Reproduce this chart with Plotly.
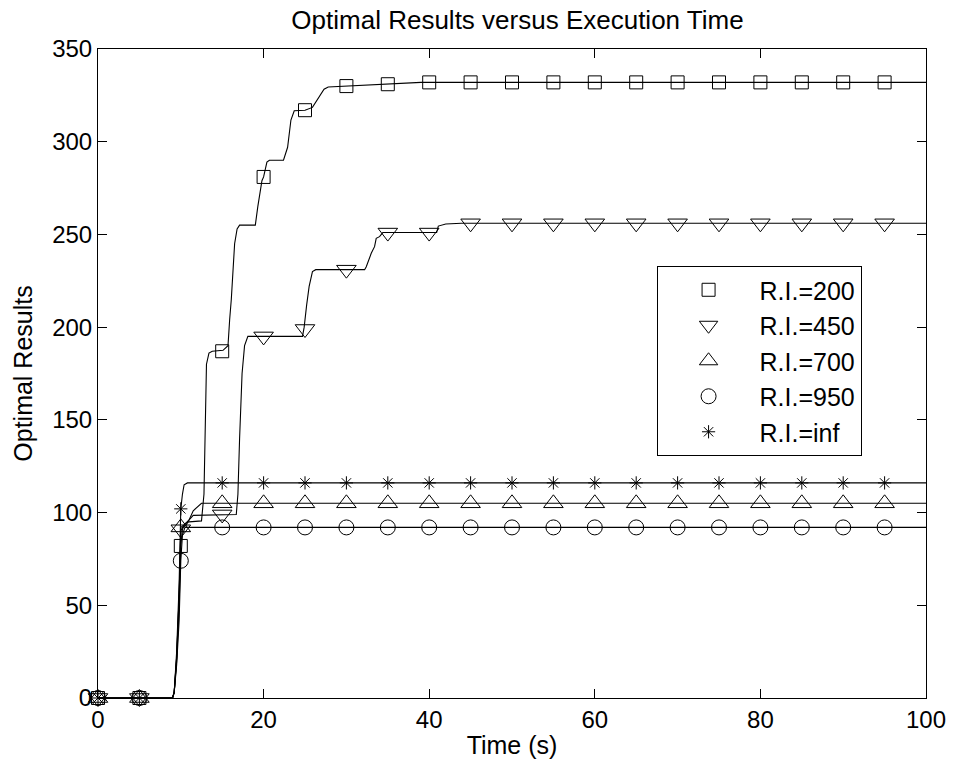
import plotly.graph_objects as go

# ---------------- data ----------------
marker_t = [0, 5, 10, 15, 20, 25, 30, 35, 40, 45, 50, 55, 60, 65, 70, 75, 80, 85, 90, 95]

m200 = [0, 0, 82, 187, 281, 317, 330, 331, 332, 332, 332, 332, 332, 332, 332, 332, 332, 332, 332, 332]
m450 = [0, 0, 91, 99, 195, 199, 231, 251, 251, 256, 256, 256, 256, 256, 256, 256, 256, 256, 256, 256]
m700 = [0, 0, 92, 105, 105, 105, 105, 105, 105, 105, 105, 105, 105, 105, 105, 105, 105, 105, 105, 105]
m950 = [0, 0, 74, 92, 92, 92, 92, 92, 92, 92, 92, 92, 92, 92, 92, 92, 92, 92, 92, 92]
minf = [0, 0, 102, 116, 116, 116, 116, 116, 116, 116, 116, 116, 116, 116, 116, 116, 116, 116, 116, 116]

t200 = [0, 9.0, 9.2, 9.5, 9.8, 10.0, 10.2, 10.5, 11.0, 12.5, 12.8, 12.95, 13.1, 13.4, 13.8, 15.1, 15.7,
        15.9, 16.1, 16.5, 16.8, 17.1, 19.0, 19.3, 19.8, 20.0, 20.4, 20.7, 22.4, 22.9, 23.3, 23.7, 25.0,
        25.9, 26.5, 27.3, 27.8, 30.0, 32.0, 33.5, 37.0, 39.0, 100]
v200 = [0, 0, 3, 20, 50, 82, 91, 94, 95, 95.5, 110, 150, 180, 186, 187, 187.5, 190,
        204, 215, 245, 253, 255, 255, 265, 279, 281, 289, 290, 290, 297, 311.7, 316.7, 317,
        318.5, 322.5, 328.3, 329.5, 330, 330.5, 331, 331.5, 332, 332]

t450 = [0, 9.0, 9.2, 9.5, 9.8, 10.0, 10.2, 10.6, 11.0, 11.5, 16.7, 16.9, 17.1, 17.4, 17.7, 18.1, 24.7,
        24.9, 25.2, 25.5, 25.9, 26.3, 32.2, 32.4, 33.0, 33.4, 33.6, 34.0, 34.4, 40.9, 41.1, 42.0, 43.9, 100]
v450 = [0, 0, 3, 22, 55, 90, 92, 93, 96, 98.5, 99, 110, 140, 175, 190, 195, 195,
        200, 212, 222, 230, 231, 231, 232.6, 239.8, 243.4, 247.9, 248.8, 251, 251, 254.5, 255.6, 256, 256]

t700 = [0, 9.0, 9.2, 9.5, 9.8, 10.0, 10.3, 11.0, 11.5, 12.0, 12.5, 100]
v700 = [0, 0, 3, 22, 55, 92, 93, 96, 101, 103, 105, 105]

t950 = [0, 9.0, 9.2, 9.5, 9.8, 10.0, 10.2, 10.5, 100]
v950 = [0, 0, 3, 18, 42, 74, 88, 92, 92]

tinf = [0, 9.0, 9.2, 9.5, 9.8, 10.0, 10.2, 10.4, 10.8, 100]
vinf = [0, 0, 3, 25, 62, 102, 110, 115, 116, 116]

names = ["R.I.=200", "R.I.=450", "R.I.=700", "R.I.=950", "R.I.=inf"]
x_ticks = [0, 20, 40, 60, 80, 100]
y_ticks = [0, 50, 100, 150, 200, 250, 300, 350]

# ---------------- figure ----------------
FONT = "Liberation Sans, Arial, Helvetica, sans-serif"
fig = go.Figure()

lines = [(t200, v200), (t450, v450), (t700, v700), (t950, v950), (tinf, vinf)]
for (tx, vy) in lines:
    fig.add_trace(go.Scatter(x=tx, y=vy, mode="lines", line=dict(color="black", width=1.1),
                             showlegend=False, hoverinfo="skip"))

marks = [m200, m450, m700, m950, minf]
symbols = ["square-open", "triangle-down-open", "triangle-up-open", "circle-open", "asterisk-open"]
sizes = [13, 17, 17, 15, 11]
for name, vals, sym, sz in zip(names, marks, symbols, sizes):
    fig.add_trace(go.Scatter(x=marker_t, y=vals, mode="markers", name=name, cliponaxis=False,
                             marker=dict(symbol=sym, size=sz, color="black",
                                         line=dict(color="black", width=1))))

axis_common = dict(showline=True, linecolor="black", linewidth=1, mirror="ticks",
                   ticks="inside", ticklen=9, tickcolor="black", tickwidth=1,
                   showgrid=False, zeroline=False,
                   tickfont=dict(family=FONT, size=24, color="black"))

fig.update_layout(
    width=958, height=766,
    margin=dict(l=98, r=21, t=49, b=68),
    paper_bgcolor="white", plot_bgcolor="white",
    font=dict(family=FONT, size=24, color="black"),
    title=dict(text="Optimal Results versus Execution Time", x=0.5402, xanchor="center",
               y=1 - 20 / 766, yanchor="middle", font=dict(family=FONT, size=26, color="black")),
    xaxis=dict(range=[0, 100], tickvals=x_ticks, ticktext=[str(v) for v in x_ticks],
               title=dict(text="Time (s)", font=dict(family=FONT, size=25), standoff=4),
               **axis_common),
    yaxis=dict(range=[0, 350], tickvals=y_ticks, ticktext=[str(v) for v in y_ticks],
               title=dict(text="Optimal Results", font=dict(family=FONT, size=25), standoff=12),
               **axis_common),
    legend=dict(x=0.6746, y=0.6656, xanchor="left", yanchor="top",
                bgcolor="white", bordercolor="black", borderwidth=1,
                font=dict(family=FONT, size=25, color="black"),
                itemwidth=92, traceorder="normal"),
)

fig.write_html("out.html")
